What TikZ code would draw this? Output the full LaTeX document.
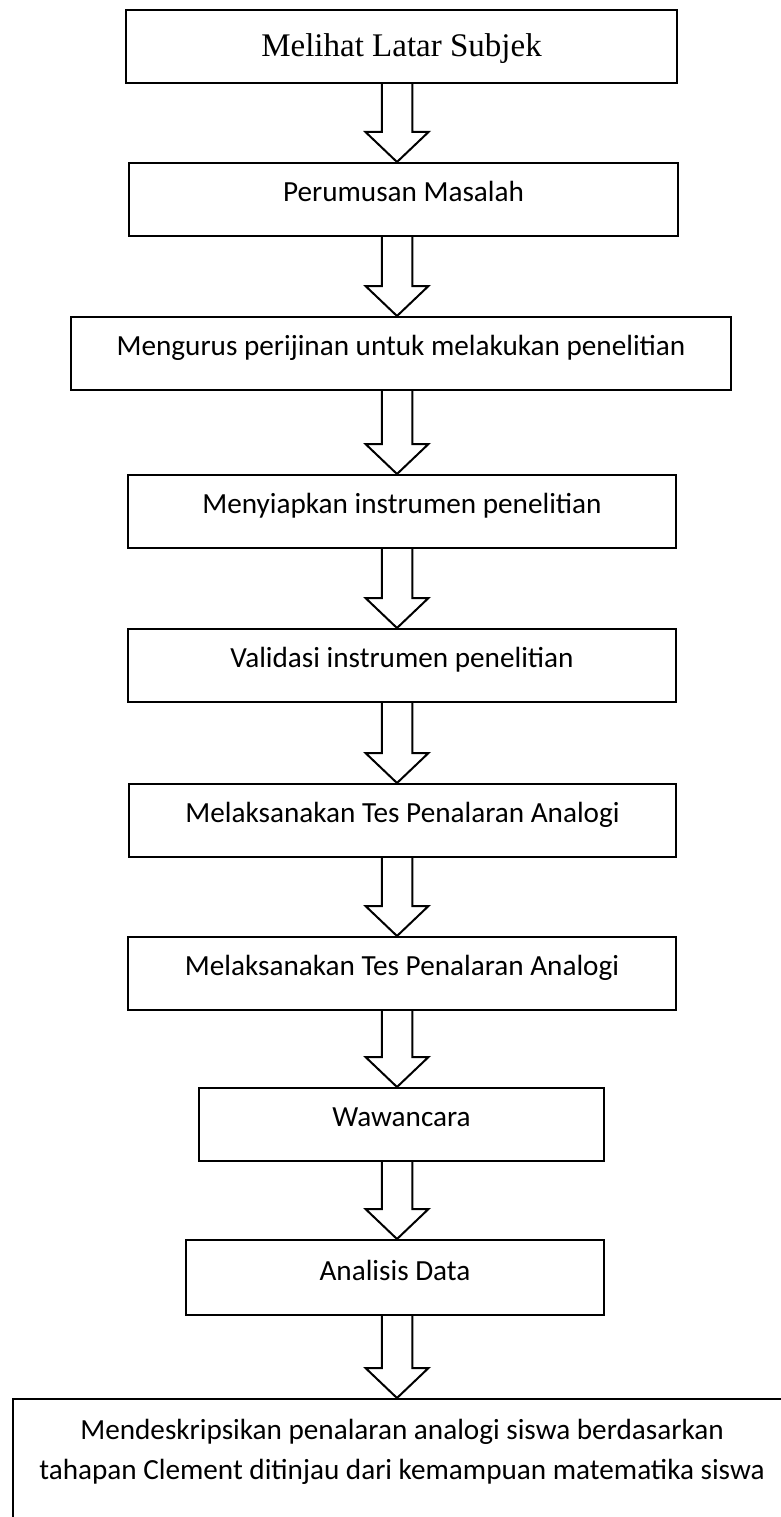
\documentclass[tikz,border=0pt]{standalone}
\usepackage{fontspec}
\setmainfont{Carlito}
\newfontfamily\timesfont{Liberation Serif}
\usetikzlibrary{calc}
\newcommand\blockarrow[2]{%
  \draw[barrow] let \p1=(#1.south), \p2=(#2.north) in
    ({397pt-15.25pt},\y1) -- ({397pt-15.25pt},{\y2+30pt}) -- ({397pt-31.5pt},{\y2+30pt})
    -- (397pt,\y2) -- ({397pt+31.5pt},{\y2+30pt}) -- ({397pt+15.25pt},{\y2+30pt})
    -- ({397pt+15.25pt},\y1);}
\begin{document}
\begin{tikzpicture}[x=1pt,y=-1pt,
  box/.style={draw, line width=2pt, inner sep=0pt, minimum height=73pt,
    text height=20pt, text depth=16pt, font=\fontsize{29.2}{40}\selectfont, align=center},
  barrow/.style={draw, line width=2pt, line join=miter}]
\useasboundingbox (0,0) rectangle (781,1517);
\clip (0,0) rectangle (781,1517);

\node[box, minimum width=551pt, text height=23pt, text depth=2pt,
  font=\timesfont\fontsize{33}{40}\selectfont] (b1) at (401.5,46.5) {Melihat Latar Subjek};
\node[box, minimum width=549pt] (b2) at (403.5,199.5) {Perumusan Masalah};
\node[box, minimum width=660pt] (b3) at (401,353.5) {Mengurus perijinan untuk melakukan penelitian};
\node[box, minimum width=548pt] (b4) at (402,511.5) {Menyiapkan instrumen penelitian};
\node[box, minimum width=548pt] (b5) at (402,665.5) {Validasi instrumen penelitian};
\node[box, minimum width=547pt] (b6) at (402.5,820.5) {Melaksanakan Tes Penalaran Analogi};
\node[box, minimum width=548pt] (b7) at (402,973.5) {Melaksanakan Tes Penalaran Analogi};
\node[box, minimum width=405pt] (b8) at (401.5,1124.5) {Wawancara};
\node[box, minimum width=418pt, minimum height=75pt, text depth=15pt] (b9) at (395,1277.5) {Analisis Data};
\node[box, anchor=north, minimum width=778pt, minimum height=0pt, text height=80pt, text depth=62pt]
  (b10) at (402,1398) {Mendeskripsikan penalaran analogi siswa berdasarkan\\tahapan Clement ditinjau dari kemampuan matematika siswa};

\blockarrow{b1}{b2}
\blockarrow{b2}{b3}
\blockarrow{b3}{b4}
\blockarrow{b4}{b5}
\blockarrow{b5}{b6}
\blockarrow{b6}{b7}
\blockarrow{b7}{b8}
\blockarrow{b8}{b9}
\blockarrow{b9}{b10}
\end{tikzpicture}
\end{document}
